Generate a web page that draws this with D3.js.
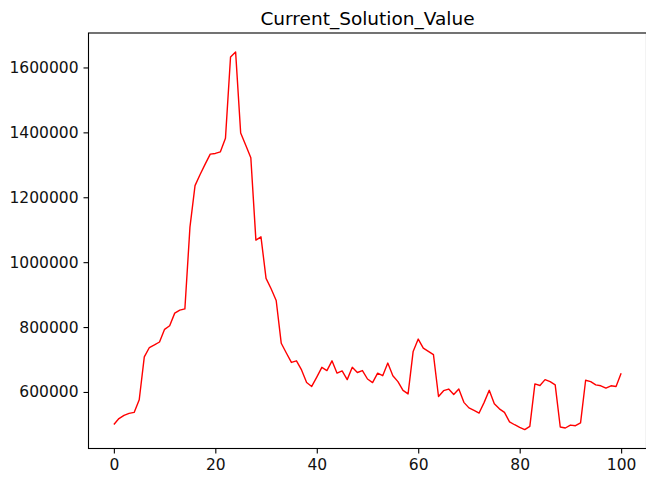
<!DOCTYPE html>
<html>
<head>
<meta charset="utf-8">
<script src="https://cdn.jsdelivr.net/npm/d3@7"></script>
<style>
  html, body { margin: 0; padding: 0; background: #fff; }
  svg { display: block; font-family: "DejaVu Sans", sans-serif; }
</style>
</head>
<body>
<div id="chart"></div>
<script>
// --- Data ---
const chartTitle = "Current_Solution_Value";
const iterations = d3.range(0, 101);
const solutionValues = [
  500000, 518000, 528000, 534000, 537000, 576000, 708000, 737000, 745000, 754000,
  793000, 804000, 843000, 852000, 856000, 1108000, 1236000, 1270000, 1302000, 1333000,
  1335000, 1340000, 1382000, 1632000, 1648000, 1398000, 1360000, 1322000, 1068000, 1078000,
  950000, 918000, 882000, 750000, 720000, 691000, 696000, 668000, 629000, 617000,
  646000, 676000, 666000, 696000, 658000, 665000, 638000, 676000, 660000, 666000,
  640000, 629000, 658000, 650000, 689000, 650000, 632000, 605000, 594000, 725000,
  763000, 735000, 725000, 715000, 586000, 604000, 609000, 592000, 609000, 568000,
  551000, 543000, 535000, 568000, 605000, 564000, 548000, 537000, 508000, 499000,
  491000, 484000, 494000, 625000, 620000, 638000, 632000, 622000, 492000, 489000,
  498000, 496000, 505000, 636000, 632000, 622000, 619000, 612000, 619000, 617000,
  658000
];
const xTicks = [0, 20, 40, 60, 80, 100];
const yTicks = [600000, 800000, 1000000, 1200000, 1400000, 1600000];

// --- Layout ---
const WIDTH = 646, HEIGHT = 481;
const plot = { left: 88.5, right: 646.5, top: 33, bottom: 448.5 };

const svg = d3.select('#chart')
  .append('svg')
  .attr('width', WIDTH)
  .attr('height', HEIGHT);

// matplotlib-style 5% margins around the data
const xMin = d3.min(iterations), xMax = d3.max(iterations);
const yMin = d3.min(solutionValues), yMax = d3.max(solutionValues);
const xPad = (xMax - xMin) * 0.05, yPad = (yMax - yMin) * 0.05;

const x = d3.scaleLinear()
  .domain([xMin - xPad, xMax + xPad])
  .range([plot.left, plot.right]);

const y = d3.scaleLinear()
  .domain([yMin - yPad, yMax + yPad])
  .range([plot.bottom, plot.top]);

// --- Line ---
const line = d3.line()
  .x((d, i) => x(iterations[i]))
  .y(d => y(d));

svg.append('path')
  .datum(solutionValues)
  .attr('fill', 'none')
  .attr('stroke', '#ff0000')
  .attr('stroke-width', 1.4)
  .attr('stroke-linejoin', 'round')
  .attr('d', line);

// --- Axes ---
const xAxis = svg.append('g')
  .attr('transform', `translate(0,${plot.bottom})`)
  .call(d3.axisBottom(x).tickValues(xTicks).tickSize(5).tickPadding(5).tickSizeOuter(0).tickFormat(d3.format('d')));

const yAxis = svg.append('g')
  .attr('transform', `translate(${plot.left},0)`)
  .call(d3.axisLeft(y).tickValues(yTicks).tickSize(5).tickPadding(5).tickSizeOuter(0).tickFormat(d3.format('d')));

[xAxis, yAxis].forEach(g => {
  g.select('.domain').remove();
  g.selectAll('.tick line').attr('stroke', '#000').attr('stroke-width', 1.1);
  g.selectAll('.tick text')
    .attr('fill', '#111')
    .style('font-family', '"DejaVu Sans", sans-serif')
    .style('font-size', '15.5px');
});

// spines
svg.append('rect')
  .attr('x', plot.left)
  .attr('y', plot.top)
  .attr('width', plot.right - plot.left)
  .attr('height', plot.bottom - plot.top)
  .attr('fill', 'none')
  .attr('stroke', '#000')
  .attr('stroke-width', 1.1);

// --- Title ---
svg.append('text')
  .attr('x', (plot.left + plot.right) / 2)
  .attr('y', 25)
  .attr('text-anchor', 'middle')
  .attr('fill', '#000')
  .style('font-size', '18.5px')
  .text(chartTitle);
</script>
</body>
</html>
